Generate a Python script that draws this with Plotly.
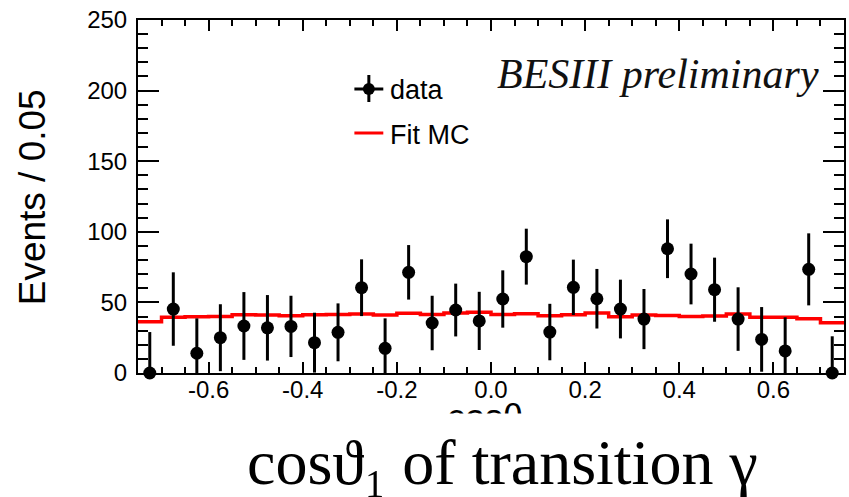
import plotly.graph_objects as go

# ---------------- data ----------------
bin_width = 0.05
x_low, x_high = -0.75, 0.75
n_bins = 30
bin_centers = [round(x_low + bin_width * (i + 0.5), 3) for i in range(n_bins)]

data_counts = [0, 45.3, 14, 25, 33.3, 32, 33, 21.5, 28.8, 60.4,
               17.5, 71.3, 35.4, 44.6, 36.9, 52.4, 82.4, 29, 60.7, 52.6,
               45.3, 38.2, 88, 70.1, 59, 38.2, 23.8, 15.6, 73.4, 0]
data_errors = [29, 26, 24.7, 23.7, 24, 23.2, 21.7, 21.2, 20.5, 20.1,
               21.2, 19.3, 19.3, 18.7, 20.6, 20.3, 19.8, 20, 19.6, 21.1,
               20.8, 21.3, 20.8, 21.5, 22.7, 22.5, 22.9, 23.8, 25.5, 26]
fit_mc = [36.3, 39.4, 39.9, 40.1, 41.3, 41.1, 40.6, 41.3, 41.5, 41.8,
          41.1, 42.3, 41.5, 42.5, 43.0, 41.5, 42.0, 40.6, 41.3, 42.5,
          39.9, 41.1, 40.8, 40.1, 40.4, 41.8, 39.4, 39.4, 38.5, 35.6]

y_ticks = [0, 50, 100, 150, 200, 250]
x_ticks = [-0.6, -0.4, -0.2, 0.0, 0.2, 0.4, 0.6]
x_tick_labels = ["-0.6", "-0.4", "-0.2", "0.0", "0.2", "0.4", "0.6"]

# ---------------- layout geometry ----------------
W, H = 849, 497
L, R, T, B = 138, 3, 20, 124
PW, PH = W - L - R, H - T - B


def px(xp):
    return (xp - L) / PW


def py(yp):
    return (H - B - yp) / PH


# step histogram built from bin edges
edges = [x_low + bin_width * i for i in range(n_bins + 1)]
fit_y = fit_mc + [fit_mc[-1]]

fig = go.Figure()
fig.add_trace(go.Scatter(
    x=edges, y=fit_y, mode="lines", line=dict(color="#ff0000", width=3.5, shape="hv"),
    name="Fit MC", showlegend=False, cliponaxis=True))
fig.add_trace(go.Scatter(
    x=bin_centers, y=data_counts, mode="markers",
    marker=dict(color="black", size=13),
    error_y=dict(type="data", array=data_errors, color="black", thickness=3, width=0),
    name="data", showlegend=False, cliponaxis=False))

sans = "Liberation Sans, Arial, sans-serif"
serif = "Liberation Serif, Times New Roman, serif"
axis_font = dict(family=sans, size=24, color="black")

fig.update_xaxes(
    range=[x_low, x_high], tickmode="array", tickvals=x_ticks, ticktext=x_tick_labels,
    ticks="inside", ticklen=11, tickwidth=2, tickcolor="black",
    showline=True, linecolor="black", linewidth=2, mirror="allticks",
    showgrid=False, zeroline=False, tickfont=axis_font, ticklabelstandoff=-6,
    minor=dict(dtick=bin_width, tick0=0, ticks="inside", ticklen=6, tickwidth=2,
               tickcolor="black", showgrid=False))
fig.update_yaxes(
    range=[0, 250], tickmode="array", tickvals=y_ticks,
    ticks="inside", ticklen=21, tickwidth=2, tickcolor="black",
    showline=True, linecolor="black", linewidth=2, mirror="allticks",
    showgrid=False, zeroline=False, tickfont=axis_font, ticklabelstandoff=4,
    minor=dict(dtick=10, tick0=0, ticks="inside", ticklen=10, tickwidth=2,
               tickcolor="black", showgrid=False))

shapes = []
# legend glyphs (paper coords)
shapes.append(dict(type="line", xref="paper", yref="paper",
                   x0=px(355), x1=px(384), y0=py(89), y1=py(89),
                   line=dict(color="black", width=3)))
shapes.append(dict(type="line", xref="paper", yref="paper",
                   x0=px(369.5), x1=px(369.5), y0=py(75), y1=py(102),
                   line=dict(color="black", width=3)))
shapes.append(dict(type="circle", xref="paper", yref="paper",
                   x0=px(363.5), x1=px(375.5), y0=py(83), y1=py(95),
                   fillcolor="black", line=dict(color="black", width=0)))
shapes.append(dict(type="line", xref="paper", yref="paper",
                   x0=px(355), x1=px(384), y0=py(133), y1=py(133),
                   line=dict(color="#ff0000", width=3)))

annotations = [
    dict(text="data", xref="paper", yref="paper", x=px(389), y=py(90),
         xanchor="left", yanchor="middle", showarrow=False,
         font=dict(family=sans, size=27, color="black")),
    dict(text="Fit MC", xref="paper", yref="paper", x=px(389), y=py(135),
         xanchor="left", yanchor="middle", showarrow=False,
         font=dict(family=sans, size=27, color="black")),
    dict(text="<i>BESIII preliminary</i>", xref="paper", yref="paper", x=px(823), y=py(74),
         xanchor="right", yanchor="middle", showarrow=False,
         font=dict(family=serif, size=42, color="#111111")),
    dict(text="Events / 0.05", xref="paper", yref="paper", x=px(32), y=py(197),
         xanchor="center", yanchor="middle", textangle=-90, showarrow=False,
         font=dict(family=sans, size=37, color="black")),
    # partially hidden ROOT axis title
    dict(text="cosθ", xref="paper", yref="paper", x=px(486), y=py(417),
         xanchor="center", yanchor="middle", showarrow=False,
         font=dict(family=sans, size=36, color="black")),
    # white caption box covering the lower part of it
    dict(text=" ", xref="paper", yref="paper", x=px(0), y=py(413),
         xanchor="left", yanchor="top", showarrow=False, width=W, height=H - 413,
         bgcolor="white", borderpad=0,
         font=dict(size=10)),
    dict(text="cosϑ₁ of transition γ", xref="paper", yref="paper",
         x=px(504), y=py(462), xanchor="center", yanchor="middle", showarrow=False,
         font=dict(family=serif, size=64, color="black")),
]

fig.update_layout(
    width=W, height=H, margin=dict(l=L, r=R, t=T, b=B),
    paper_bgcolor="white", plot_bgcolor="white",
    shapes=shapes, annotations=annotations, showlegend=False)

fig.write_html("out.html")
